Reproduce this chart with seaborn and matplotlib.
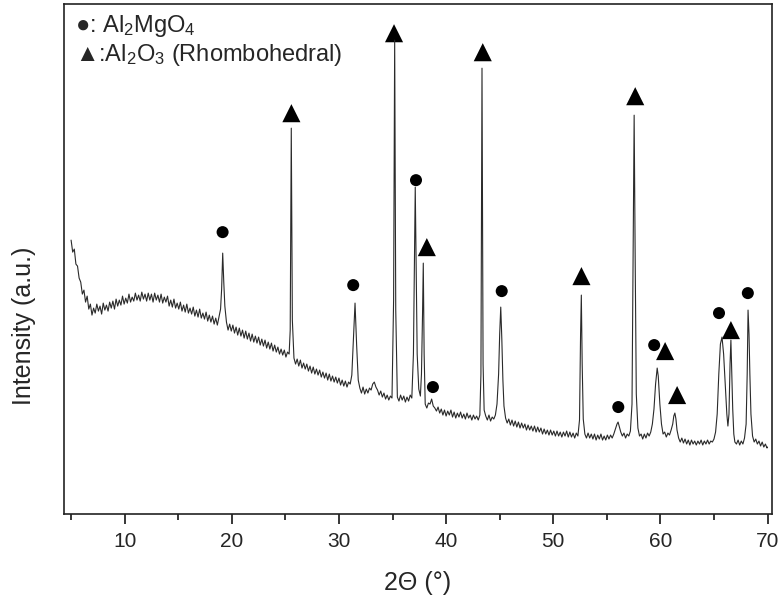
import pandas as pd
import matplotlib
matplotlib.use("Agg")
import matplotlib.pyplot as plt
from matplotlib.ticker import MultipleLocator
import seaborn as sns

# XRD pattern: (2-theta in degrees, intensity in a.u.)
xrd_points = [
    (5.0, 274), (5.15, 262), (5.3, 265), (5.45, 250), (5.6, 248), (5.75, 236), (5.9, 232),
    (6.05, 220), (6.2, 224), (6.35, 212), (6.5, 218), (6.65, 205), (6.8, 210), (6.95, 199),
    (7.1, 206), (7.25, 201), (7.4, 210), (7.55, 203), (7.7, 208), (7.85, 200), (8.0, 211),
    (8.15, 204), (8.3, 209), (8.45, 203), (8.6, 212), (8.75, 206), (8.9, 213), (9.05, 205),
    (9.2, 215), (9.35, 208), (9.5, 214), (9.65, 209), (9.8, 218), (9.95, 210), (10.1, 216),
    (10.25, 211), (10.4, 220), (10.55, 212), (10.7, 217), (10.85, 213), (11.0, 221),
    (11.15, 214), (11.3, 219), (11.45, 213), (11.6, 222), (11.75, 215), (11.9, 220),
    (12.05, 213), (12.2, 221), (12.35, 214), (12.5, 220), (12.65, 212), (12.8, 221),
    (12.95, 214), (13.1, 219), (13.25, 212), (13.4, 220), (13.55, 211), (13.7, 217),
    (13.85, 212), (14.0, 218), (14.15, 208), (14.3, 214), (14.45, 207), (14.6, 215),
    (14.75, 206), (14.9, 211), (15.05, 205), (15.2, 212), (15.35, 203), (15.5, 209),
    (15.65, 202), (15.8, 210), (15.95, 201), (16.1, 206), (16.25, 200), (16.4, 207),
    (16.55, 198), (16.7, 204), (16.85, 197), (17.0, 205), (17.15, 196), (17.3, 201),
    (17.45, 195), (17.6, 202), (17.75, 193), (17.9, 199), (18.05, 192), (18.2, 198),
    (18.35, 190), (18.5, 196), (18.65, 189), (18.8, 197), (18.95, 205), (19.05, 225),
    (19.15, 261), (19.25, 232), (19.35, 208), (19.5, 192), (19.65, 184), (19.8, 190),
    (19.95, 183), (20.1, 189), (20.25, 181), (20.4, 187), (20.55, 179), (20.7, 186),
    (20.85, 178), (21.0, 184), (21.15, 176), (21.3, 183), (21.45, 175), (21.6, 181),
    (21.75, 173), (21.9, 180), (22.05, 172), (22.2, 178), (22.35, 171), (22.5, 177),
    (22.65, 169), (22.8, 175), (22.95, 168), (23.1, 174), (23.25, 166), (23.4, 172),
    (23.55, 165), (23.7, 171), (23.85, 163), (24.0, 169), (24.15, 162), (24.3, 167),
    (24.45, 160), (24.6, 165), (24.75, 159), (24.9, 164), (25.05, 157), (25.2, 162),
    (25.35, 160), (25.45, 184), (25.55, 386), (25.65, 194), (25.8, 156), (25.95, 150),
    (26.1, 155), (26.25, 148), (26.4, 154), (26.55, 146), (26.7, 151), (26.85, 145),
    (27.0, 150), (27.15, 143), (27.3, 148), (27.45, 141), (27.6, 147), (27.75, 140),
    (27.9, 145), (28.05, 139), (28.2, 144), (28.35, 137), (28.5, 142), (28.65, 136),
    (28.8, 141), (28.95, 134), (29.1, 140), (29.25, 133), (29.4, 138), (29.55, 132),
    (29.7, 137), (29.85, 131), (30.0, 136), (30.15, 129), (30.3, 134), (30.45, 128),
    (30.6, 133), (30.75, 127), (30.9, 132), (31.05, 130), (31.2, 139), (31.35, 174),
    (31.5, 211), (31.65, 169), (31.8, 134), (31.95, 126), (32.1, 121), (32.25, 127),
    (32.4, 120), (32.55, 125), (32.7, 121), (32.85, 126), (33.0, 124), (33.15, 130),
    (33.3, 132), (33.45, 127), (33.6, 124), (33.75, 119), (33.9, 123), (34.05, 117),
    (34.2, 121), (34.35, 115), (34.5, 119), (34.65, 114), (34.8, 118), (34.95, 116),
    (35.1, 214), (35.2, 474), (35.3, 204), (35.45, 117), (35.6, 113), (35.75, 119),
    (35.9, 114), (36.05, 118), (36.2, 112), (36.35, 117), (36.5, 113), (36.65, 119),
    (36.8, 116), (36.95, 160), (37.05, 260), (37.12, 327), (37.2, 250), (37.3, 160),
    (37.45, 125), (37.6, 118), (37.7, 140), (37.8, 200), (37.87, 251), (37.95, 160),
    (38.05, 110), (38.2, 106), (38.35, 111), (38.5, 110), (38.65, 115), (38.8, 108),
    (38.95, 106), (39.1, 103), (39.25, 107), (39.4, 101), (39.55, 105), (39.7, 99),
    (39.85, 104), (40.0, 98), (40.15, 103), (40.3, 99), (40.45, 104), (40.6, 97),
    (40.75, 102), (40.9, 96), (41.05, 101), (41.2, 97), (41.35, 102), (41.5, 96),
    (41.65, 100), (41.8, 95), (41.95, 101), (42.1, 96), (42.25, 99), (42.4, 94),
    (42.55, 99), (42.7, 95), (42.85, 98), (43.0, 94), (43.15, 99), (43.25, 140),
    (43.35, 446), (43.45, 150), (43.55, 104), (43.7, 98), (43.85, 94), (44.0, 99),
    (44.15, 93), (44.3, 97), (44.45, 95), (44.6, 99), (44.75, 110), (44.9, 140),
    (45.0, 180), (45.1, 207), (45.2, 175), (45.3, 134), (45.4, 108), (45.55, 96),
    (45.7, 91), (45.85, 95), (46.0, 89), (46.15, 94), (46.3, 88), (46.45, 93), (46.6, 87),
    (46.75, 92), (46.9, 86), (47.05, 91), (47.2, 86), (47.35, 90), (47.5, 84), (47.65, 89),
    (47.8, 84), (47.95, 88), (48.1, 83), (48.25, 88), (48.4, 82), (48.55, 87), (48.7, 82),
    (48.85, 86), (49.0, 80), (49.15, 85), (49.3, 80), (49.45, 84), (49.6, 79), (49.75, 84),
    (49.9, 79), (50.05, 83), (50.2, 78), (50.35, 83), (50.5, 78), (50.65, 82), (50.8, 77),
    (50.95, 82), (51.1, 78), (51.25, 83), (51.4, 77), (51.55, 82), (51.7, 77), (51.85, 81),
    (52.0, 76), (52.15, 81), (52.3, 78), (52.45, 94), (52.55, 180), (52.62, 219),
    (52.7, 150), (52.8, 95), (52.95, 80), (53.1, 76), (53.25, 81), (53.4, 76), (53.55, 80),
    (53.7, 75), (53.85, 80), (54.0, 74), (54.15, 79), (54.3, 75), (54.45, 80), (54.6, 74),
    (54.75, 78), (54.9, 74), (55.05, 79), (55.2, 75), (55.35, 79), (55.5, 76), (55.65, 80),
    (55.8, 85), (55.95, 90), (56.05, 92), (56.15, 88), (56.3, 82), (56.45, 78), (56.6, 81),
    (56.75, 76), (56.9, 80), (57.05, 78), (57.2, 83), (57.35, 110), (57.45, 250),
    (57.55, 399), (57.65, 250), (57.75, 120), (57.9, 86), (58.05, 78), (58.2, 80),
    (58.35, 75), (58.5, 80), (58.65, 76), (58.8, 81), (58.95, 78), (59.1, 82), (59.25, 90),
    (59.4, 105), (59.55, 130), (59.7, 146), (59.8, 138), (59.95, 110), (60.1, 90),
    (60.25, 80), (60.4, 82), (60.55, 77), (60.7, 81), (60.85, 79), (61.0, 84), (61.15, 90),
    (61.25, 98), (61.35, 101), (61.45, 95), (61.55, 84), (61.7, 76), (61.85, 72),
    (62.0, 76), (62.15, 71), (62.3, 75), (62.45, 70), (62.6, 74), (62.75, 69), (62.9, 74),
    (63.05, 70), (63.2, 73), (63.35, 69), (63.5, 73), (63.65, 70), (63.8, 74), (63.95, 69),
    (64.1, 73), (64.25, 70), (64.4, 74), (64.55, 70), (64.7, 73), (64.85, 72), (65.0, 75),
    (65.15, 82), (65.3, 100), (65.45, 140), (65.6, 170), (65.75, 177), (65.9, 160),
    (66.05, 130), (66.2, 100), (66.3, 88), (66.4, 100), (66.5, 150), (66.58, 174),
    (66.66, 140), (66.75, 105), (66.85, 80), (66.95, 72), (67.1, 70), (67.25, 74),
    (67.4, 69), (67.55, 73), (67.7, 70), (67.85, 76), (68.0, 90), (68.1, 140),
    (68.18, 204), (68.27, 180), (68.35, 140), (68.45, 100), (68.6, 78), (68.75, 72),
    (68.9, 75), (69.05, 70), (69.2, 73), (69.35, 68), (69.5, 72), (69.65, 67), (69.8, 70),
    (69.95, 66), (70.0, 67),
]

# phase markers (peak labels)
spinel_x = [19.14, 31.33, 37.19, 38.77, 45.19, 56.07, 59.42, 65.47, 68.16]
spinel_y = [282, 229, 334, 127, 223, 107, 169, 201, 221]
corundum_x = [25.56, 35.14, 38.2, 43.42, 52.63, 57.65, 60.44, 61.56, 66.58]
corundum_y = [401, 481, 267, 462, 238, 418, 163, 119, 184]

legend_lines = ["●: Al$_2$MgO$_4$", "▲:Al$_2$O$_3$ (Rhombohedral)"]

pattern = pd.DataFrame(xrd_points, columns=["two_theta", "intensity"])
spinel = pd.DataFrame({"x": spinel_x, "y": spinel_y})
corundum = pd.DataFrame({"x": corundum_x, "y": corundum_y})

sns.set_theme(style="white")
plt.rcParams["font.family"] = ["Liberation Sans", "DejaVu Sans"]
plt.rcParams["mathtext.fontset"] = "custom"
plt.rcParams["mathtext.rm"] = "Liberation Sans"
plt.rcParams["mathtext.default"] = "regular"

fig = plt.figure(figsize=(7.82, 6.04), dpi=100)
ax = fig.add_axes([0.082, 0.149, 0.905, 0.844])

sns.lineplot(data=pattern, x="two_theta", y="intensity", ax=ax, sort=False,
             estimator=None, color="#2a2a2a", linewidth=0.8)
sns.scatterplot(data=spinel, x="x", y="y", ax=ax, marker="o", s=75,
                color="black", edgecolor="none")
sns.scatterplot(data=corundum, x="x", y="y", ax=ax, marker="^", s=170,
                color="black", edgecolor="none")

ax.set_xlim(4.35, 70.4)
ax.set_ylim(0, 510)
ax.xaxis.set_major_locator(MultipleLocator(10))
ax.xaxis.set_minor_locator(MultipleLocator(5))
ax.set_yticks([])
ax.tick_params(axis="x", which="major", direction="out", length=7, width=1.1,
               labelsize=15, pad=6, color="black", bottom=True)
ax.tick_params(axis="x", which="minor", direction="out", length=4, width=1.1,
               color="black", bottom=True)
for s in ax.spines.values():
    s.set_color("#222222")
    s.set_linewidth(1.2)

ax.set_xlabel("2Θ (°)", fontsize=18, labelpad=14)
ax.set_ylabel("Intensity (a.u.)", fontsize=18)
ax.yaxis.set_label_coords(-0.04, 0.37)

ax.text(0.015, 0.958, legend_lines[0], transform=ax.transAxes,
        fontsize=17, va="center", ha="left")
ax.text(0.015, 0.9, legend_lines[1], transform=ax.transAxes,
        fontsize=17, va="center", ha="left")

fig.savefig("out.png", dpi=100)
